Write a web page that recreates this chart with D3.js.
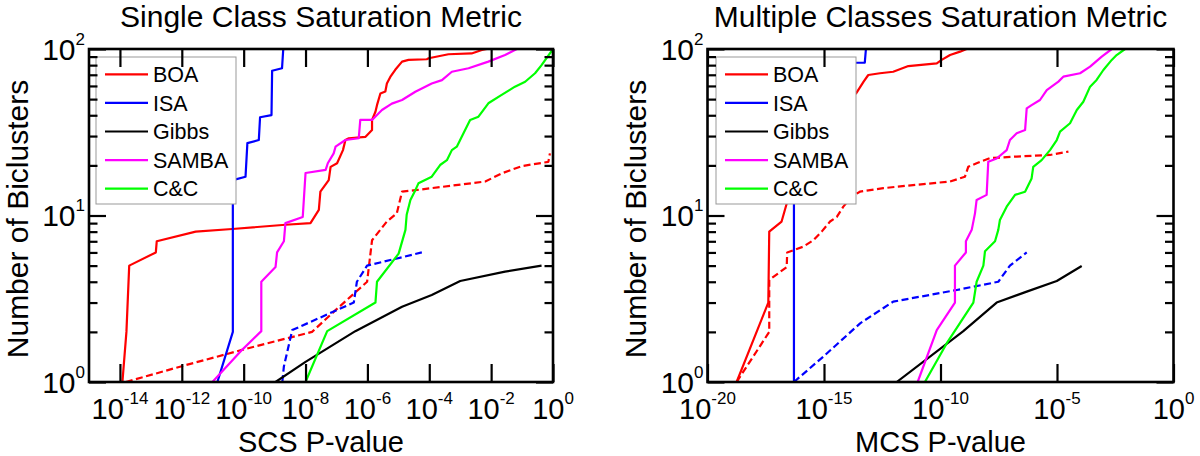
<!DOCTYPE html>
<html><head><meta charset="utf-8">
<script src="https://cdn.jsdelivr.net/npm/d3@7"></script>
<style>
body{margin:0;background:#fff}
svg{display:block}
text{font-family:"Liberation Sans",Arial,Helvetica,sans-serif;fill:#000}
</style>
</head><body>
<svg id="c" width="1200" height="456"></svg>
<script>
// ---------- data (p-values stored as log10 exponents, counts as read) ----------
const seriesNames = ["BOA","ISA","Gibbs","SAMBA","C&C"];
const seriesColors = ["#ff0000","#0000ff","#000000","#ff00ff","#00ff00"];
const scsTickExp = [-14,-12,-10,-8,-6,-4,-2,0];
const mcsTickExp = [-20,-15,-10,-5,0];
const yTickExp = [0,1,2];

// Single Class Saturation (SCS)
const scsBoaLogP = [-13.92,-13.79,-13.70,-12.84,-12.81,-11.55,-10.37,-8.65,-7.84,-7.57,-7.52,-7.25,-7.19,-6.98,-6.79,-6.71,-6.60,-6.06,-5.85,-5.85,-5.74,-5.69,-5.58,-5.42,-5.37,-5.26,-5.10,-4.88,-4.67,-4.08,-4.02,-3.38,-2.63,-2.30,-2.14];
const scsBoaN    = [1,2,5,6,7,8,8.3,8.8,9,10.8,13.9,16.3,19.6,20.6,24.7,28.4,29.1,29.7,32.6,37.5,42,46,54,55.5,62,68,75,84,86,86.8,88,93,94,98.6,100];
const scsIsaLogP = [-10.85,-10.35,-10.35,-9.94,-9.88,-9.51,-9.47,-9.10,-9.08,-8.76,-8.72];
const scsIsaN    = [1,2,16.3,17.1,27.2,28.4,38.9,40.1,74,76.6,100];
const scsGibbsLogP = [-8.97,-8.0,-6.39,-4.88,-3.92,-3.0,-1.55,-0.37];
const scsGibbsN    = [1,1.32,2.02,2.83,3.33,4.04,4.6,5.0];
const scsSambaLogP = [-11.01,-10.05,-9.43,-9.43,-8.97,-8.92,-8.70,-8.65,-8.09,-8.0,-7.35,-7.28,-7.09,-7.03,-6.71,-6.28,-6.23,-5.85,-5.53,-5.21,-4.88,-4.45,-3.92,-3.59,-3.27,-2.73,-2.09,-1.55,-1.17];
const scsSambaN    = [1,1.56,2.02,4.0,4.9,6.0,7.0,9.0,9.8,18,18.8,20.6,23.6,25.9,28.4,29.1,37.5,37.5,43,47,49.4,55.4,62,65,73,76.6,84,92,100];
const scsCcLogP = [-8.0,-7.30,-5.74,-5.69,-4.99,-4.77,-4.73,-4.61,-4.45,-4.35,-3.92,-3.65,-3.43,-3.27,-3.11,-2.95,-2.68,-2.41,-2.09,-1.66,-1.23,-0.90,-0.58,-0.37,0];
const scsCcN    = [1,2.02,3.0,4.0,5.9,8.2,10.1,12.4,14.2,15.6,17.1,20.1,21.5,24.7,25.9,29.7,37.5,39.2,47.2,53,59.4,63.6,71.5,80,100];
const scsBoaDashLogP = [-13.81,-12.03,-10.05,-7.79,-7.03,-6.01,-5.85,-5.37,-5.05,-4.88,-4.45,-2.19,-1.66,-1.01,-0.15,-0.10];
const scsBoaDashN    = [1,1.24,1.56,2.0,2.7,4.0,7.1,9.2,10.3,13.9,14.2,16,17.9,19.8,21,23.6];
const scsIsaDashLogP = [-8.75,-8.70,-8.43,-6.44,-6.34,-6.01,-4.24];
const scsIsaDashN    = [1,1.24,2.05,3.0,4.0,5.0,6.0];

// Multiple Classes Saturation (MCS)
const mcsBoaLogP = [-18.75,-17.39,-17.35,-16.82,-16.60,-16.03,-13.60,-13.30,-13.10,-12.60,-12.03,-11.38,-10.16,-9.95,-9.59,-9.16,-8.88];
const mcsBoaN    = [1,3.0,8.0,9.2,11.8,24.7,54.7,63.7,69.8,71.5,73,79,82,86,92,96.4,100];
const mcsIsaLogP = [-16.29,-16.29,-15.0,-14.3,-14.0,-13.25,-13.2];
const mcsIsaN    = [1,16,30,60,82.7,82.7,100];
const mcsGibbsLogP = [-11.88,-9.02,-7.59,-6.30,-5.01,-3.94];
const mcsGibbsN    = [1,2.02,3.0,3.49,4.04,4.97];
const mcsSambaLogP = [-10.98,-10.16,-9.38,-9.38,-8.91,-8.91,-8.66,-8.52,-8.45,-8.02,-7.95,-7.59,-7.16,-7.02,-6.73,-6.37,-6.30,-6.09,-5.73,-5.44,-4.94,-4.73,-4.01,-3.58,-3.08,-2.65];
const mcsSambaN    = [1,2.05,3.0,5.0,6.0,7.0,8.2,10.3,12.4,13.3,21,22,24.7,28.4,31.2,32.6,44,46,49.4,56.7,63.7,68.2,71.5,78.3,90,100];
const mcsCcLogP = [-10.67,-9.73,-8.59,-8.45,-8.16,-8.09,-7.66,-7.52,-7.45,-7.16,-6.80,-6.37,-6.09,-6.02,-5.66,-5.30,-5.01,-4.87,-4.44,-4.15,-3.87,-3.58,-3.30,-3.01,-2.65,-2.44,-2.08,-1.44];
const mcsCcN    = [1,1.71,3.0,4.0,5.0,6.1,7.0,8.2,9.4,11.3,13.3,13.9,16.7,19.6,21.5,24.7,28.4,31.9,35.8,43,48.2,59.4,65.2,74.8,86,92,100,100];
const mcsBoaDashLogP = [-18.75,-17.35,-17.35,-16.60,-16.58,-15.89,-15.46,-15.10,-14.74,-14.45,-14.17,-13.81,-13.46,-12.45,-11.02,-9.59,-8.95,-8.81,-8.45,-7.88,-6.73,-5.30,-4.51];
const mcsBoaDashN    = [1,2.0,4.1,4.9,6.0,6.5,7.1,8.0,9.2,9.8,11.3,13.0,13.9,14.6,15.3,16,17.1,19.6,20.6,22.1,22.6,23.1,24.2];
const mcsIsaDashLogP = [-16.29,-15.03,-13.45,-12.03,-9.30,-7.52,-7.02,-6.30];
const mcsIsaDashN    = [1,1.42,2.25,3.04,3.57,4.0,5.0,6.0];

// ---------- drawing ----------
const svg = d3.select("#c");
const toPts = (lp, n) => lp.map((e, i) => [Math.pow(10, e), n[i]]);

const panels = [
  {
    title: "Single Class Saturation Metric", xlabel: "SCS P-value",
    xr: [89, 553], dom: [1e-15, 1], ticks: scsTickExp, ylabX: 28, legX: 96,
    solid: [toPts(scsBoaLogP, scsBoaN), toPts(scsIsaLogP, scsIsaN), toPts(scsGibbsLogP, scsGibbsN), toPts(scsSambaLogP, scsSambaN), toPts(scsCcLogP, scsCcN)],
    dashed: [[0, toPts(scsBoaDashLogP, scsBoaDashN)], [1, toPts(scsIsaDashLogP, scsIsaDashN)]]
  },
  {
    title: "Multiple Classes Saturation Metric", xlabel: "MCS P-value",
    xr: [707.5, 1173.5], dom: [1e-20, 1], ticks: mcsTickExp, ylabX: 646, legX: 716,
    solid: [toPts(mcsBoaLogP, mcsBoaN), toPts(mcsIsaLogP, mcsIsaN), toPts(mcsGibbsLogP, mcsGibbsN), toPts(mcsSambaLogP, mcsSambaN), toPts(mcsCcLogP, mcsCcN)],
    dashed: [[0, toPts(mcsBoaDashLogP, mcsBoaDashN)], [1, toPts(mcsIsaDashLogP, mcsIsaDashN)]]
  }
];

const yTop = 49, yBot = 382;

panels.forEach((p, pi) => {
  const x = d3.scaleLog().domain(p.dom).range(p.xr);
  const y = d3.scaleLog().domain([1, 100]).range([yBot, yTop]);
  const g = svg.append("g");
  const cx = (p.xr[0] + p.xr[1]) / 2;

  const cid = "clip" + pi;
  svg.append("clipPath").attr("id", cid).append("rect")
    .attr("x", p.xr[0]).attr("y", yTop).attr("width", p.xr[1] - p.xr[0]).attr("height", yBot - yTop);

  const line = d3.line().x(d => x(d[0])).y(d => y(d[1]));
  const lg = g.append("g").attr("clip-path", `url(#${cid})`);

  p.dashed.forEach(([ci, pts]) => {
    lg.append("path").attr("d", line(pts)).attr("fill", "none")
      .attr("stroke", seriesColors[ci]).attr("stroke-width", 2.2)
      .attr("stroke-dasharray", "7,3.5").attr("stroke-linejoin", "round");
  });
  p.solid.forEach((pts, ci) => {
    lg.append("path").attr("d", line(pts)).attr("fill", "none")
      .attr("stroke", seriesColors[ci]).attr("stroke-width", 2.2).attr("stroke-linejoin", "round");
  });

  // legend
  const L = g.append("g");
  L.append("rect").attr("x", p.legX).attr("y", 57).attr("width", 140).attr("height", 147)
    .attr("fill", "#fff").attr("stroke", "#999").attr("stroke-width", 1);
  seriesNames.forEach((nm, i) => {
    const yy = 74.3 + i * 28.6;
    L.append("line").attr("x1", p.legX + 9).attr("x2", p.legX + 52).attr("y1", yy).attr("y2", yy)
      .attr("stroke", seriesColors[i]).attr("stroke-width", 2.2);
    L.append("text").attr("x", p.legX + 57).attr("y", yy + 7.6)
      .style("font-size", "21.5px").text(nm);
  });

  // axes ticks (inward, mirrored)
  const xtv = p.ticks.map(e => Math.pow(10, e));
  const ytv = yTickExp.map(e => Math.pow(10, e));
  const minors = [];
  [1, 10].forEach(b => { for (let k = 2; k <= 9; k++) minors.push(b * k); });

  const styleAxis = sel => {
    sel.select(".domain").remove();
    sel.selectAll("line").attr("stroke", "#000").attr("stroke-width", 2.2);
  };
  g.append("g").attr("transform", `translate(0,${yBot})`)
    .call(d3.axisBottom(x).tickValues(xtv).tickSize(-18).tickFormat("")).call(styleAxis);
  g.append("g").attr("transform", `translate(0,${yTop})`)
    .call(d3.axisTop(x).tickValues(xtv).tickSize(-18).tickFormat("")).call(styleAxis);
  g.append("g").attr("transform", `translate(${p.xr[0]},0)`)
    .call(d3.axisLeft(y).tickValues(ytv).tickSize(-17).tickFormat("")).call(styleAxis);
  g.append("g").attr("transform", `translate(${p.xr[1]},0)`)
    .call(d3.axisRight(y).tickValues(ytv).tickSize(-17).tickFormat("")).call(styleAxis);
  g.append("g").attr("transform", `translate(${p.xr[0]},0)`)
    .call(d3.axisLeft(y).tickValues(minors).tickSize(-8.5).tickFormat("")).call(styleAxis);
  g.append("g").attr("transform", `translate(${p.xr[1]},0)`)
    .call(d3.axisRight(y).tickValues(minors).tickSize(-8.5).tickFormat("")).call(styleAxis);

  // frame
  g.append("rect").attr("x", p.xr[0]).attr("y", yTop).attr("width", p.xr[1] - p.xr[0]).attr("height", yBot - yTop)
    .attr("fill", "none").attr("stroke", "#000").attr("stroke-width", 2.6);

  // x tick labels
  p.ticks.forEach(e => {
    const t = g.append("text").attr("x", x(Math.pow(10, e))).attr("y", 419)
      .attr("text-anchor", "middle").style("font-size", "29px");
    t.append("tspan").text("10");
    t.append("tspan").attr("dy", -15).style("font-size", "17px").text(String(e));
  });
  // y tick labels
  yTickExp.forEach(e => {
    const t = g.append("text").attr("x", p.xr[0] - 4).attr("y", y(Math.pow(10, e)) + 10.5)
      .attr("text-anchor", "end").style("font-size", "30px");
    t.append("tspan").text("10");
    t.append("tspan").attr("dy", -15).style("font-size", "17px").text(String(e));
  });

  // titles and labels
  g.append("text").attr("x", cx).attr("y", 27).attr("text-anchor", "middle")
    .style("font-size", "30px").text(p.title);
  g.append("text").attr("x", cx).attr("y", 451.5).attr("text-anchor", "middle")
    .style("font-size", "29px").text(p.xlabel);
  g.append("text").attr("transform", `translate(${p.ylabX},219) rotate(-90)`)
    .attr("text-anchor", "middle").style("font-size", "30px").text("Number of Biclusters");
});
</script>
</body></html>
